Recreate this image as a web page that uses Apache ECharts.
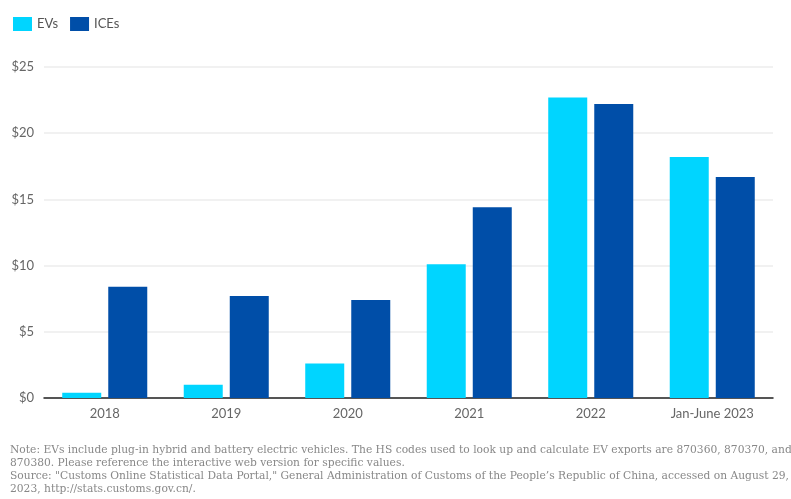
<!DOCTYPE html>
<html>
<head>
<meta charset="utf-8">
<script src="https://cdn.jsdelivr.net/npm/echarts@6/dist/echarts.min.js"></script>
<style>html,body{margin:0;padding:0;background:#fff}#c{width:791px;height:499px}</style>
</head>
<body>
<div id="c"></div>
<script>
var categories = ['2018', '2019', '2020', '2021', '2022', 'Jan-June 2023'];
var evValues = [0.4, 1.0, 2.6, 10.1, 22.7, 18.2];
var iceValues = [8.4, 7.7, 7.4, 14.4, 22.2, 16.7];
var seriesNames = ['EVs', 'ICEs'];
var noteLines = [
  'Note: EVs include plug-in hybrid and battery electric vehicles. The HS codes used to look up and calculate EV exports are 870360, 870370, and',
  '870380. Please reference the interactive web version for specific values.',
  'Source: "Customs Online Statistical Data Portal," General Administration of Customs of the People\u2019s Republic of China, accessed on August 29,',
  '2023, http://stats.customs.gov.cn/.'
];

var chart = echarts.init(document.getElementById('c'), null, {renderer: 'canvas'});
var sans = 'Lato, "Noto Sans", sans-serif';
var graphics = noteLines.map(function (t, i) {
  return {
    type: 'text', left: 10, top: 445 + i * 13,
    style: {text: t, fill: '#888', font: '10.7px "DejaVu Serif", serif'}
  };
});
chart.setOption({
  animation: false,
  color: ['#00d5ff', '#004ea8'],
  legend: {
    left: 8, top: 12, itemWidth: 19, itemHeight: 14, itemGap: 12,
    icon: 'rect',
    textStyle: {color: '#555', fontSize: 13, fontFamily: sans},
    data: seriesNames
  },
  grid: {left: 44, right: 18, top: 67, bottom: 101},
  xAxis: {
    type: 'category', data: categories,
    axisLine: {lineStyle: {color: '#222', width: 1.5}},
    axisTick: {alignWithLabel: true, length: 5, lineStyle: {color: '#222', width: 1.5}},
    axisLabel: {color: '#666', fontSize: 13, fontFamily: sans, margin: 9}
  },
  yAxis: {
    type: 'value', min: 0, max: 25, interval: 5,
    axisLabel: {color: '#666', fontSize: 13, fontFamily: sans, formatter: '${value}', margin: 10},
    splitLine: {lineStyle: {color: '#ececec', width: 1.5}},
    axisLine: {show: false}, axisTick: {show: false}
  },
  series: [
    {name: seriesNames[0], type: 'bar', data: evValues, barWidth: 39, barGap: '18%'},
    {name: seriesNames[1], type: 'bar', data: iceValues, barWidth: 39, barGap: '18%'}
  ],
  graphic: graphics
});
</script>
</body>
</html>
